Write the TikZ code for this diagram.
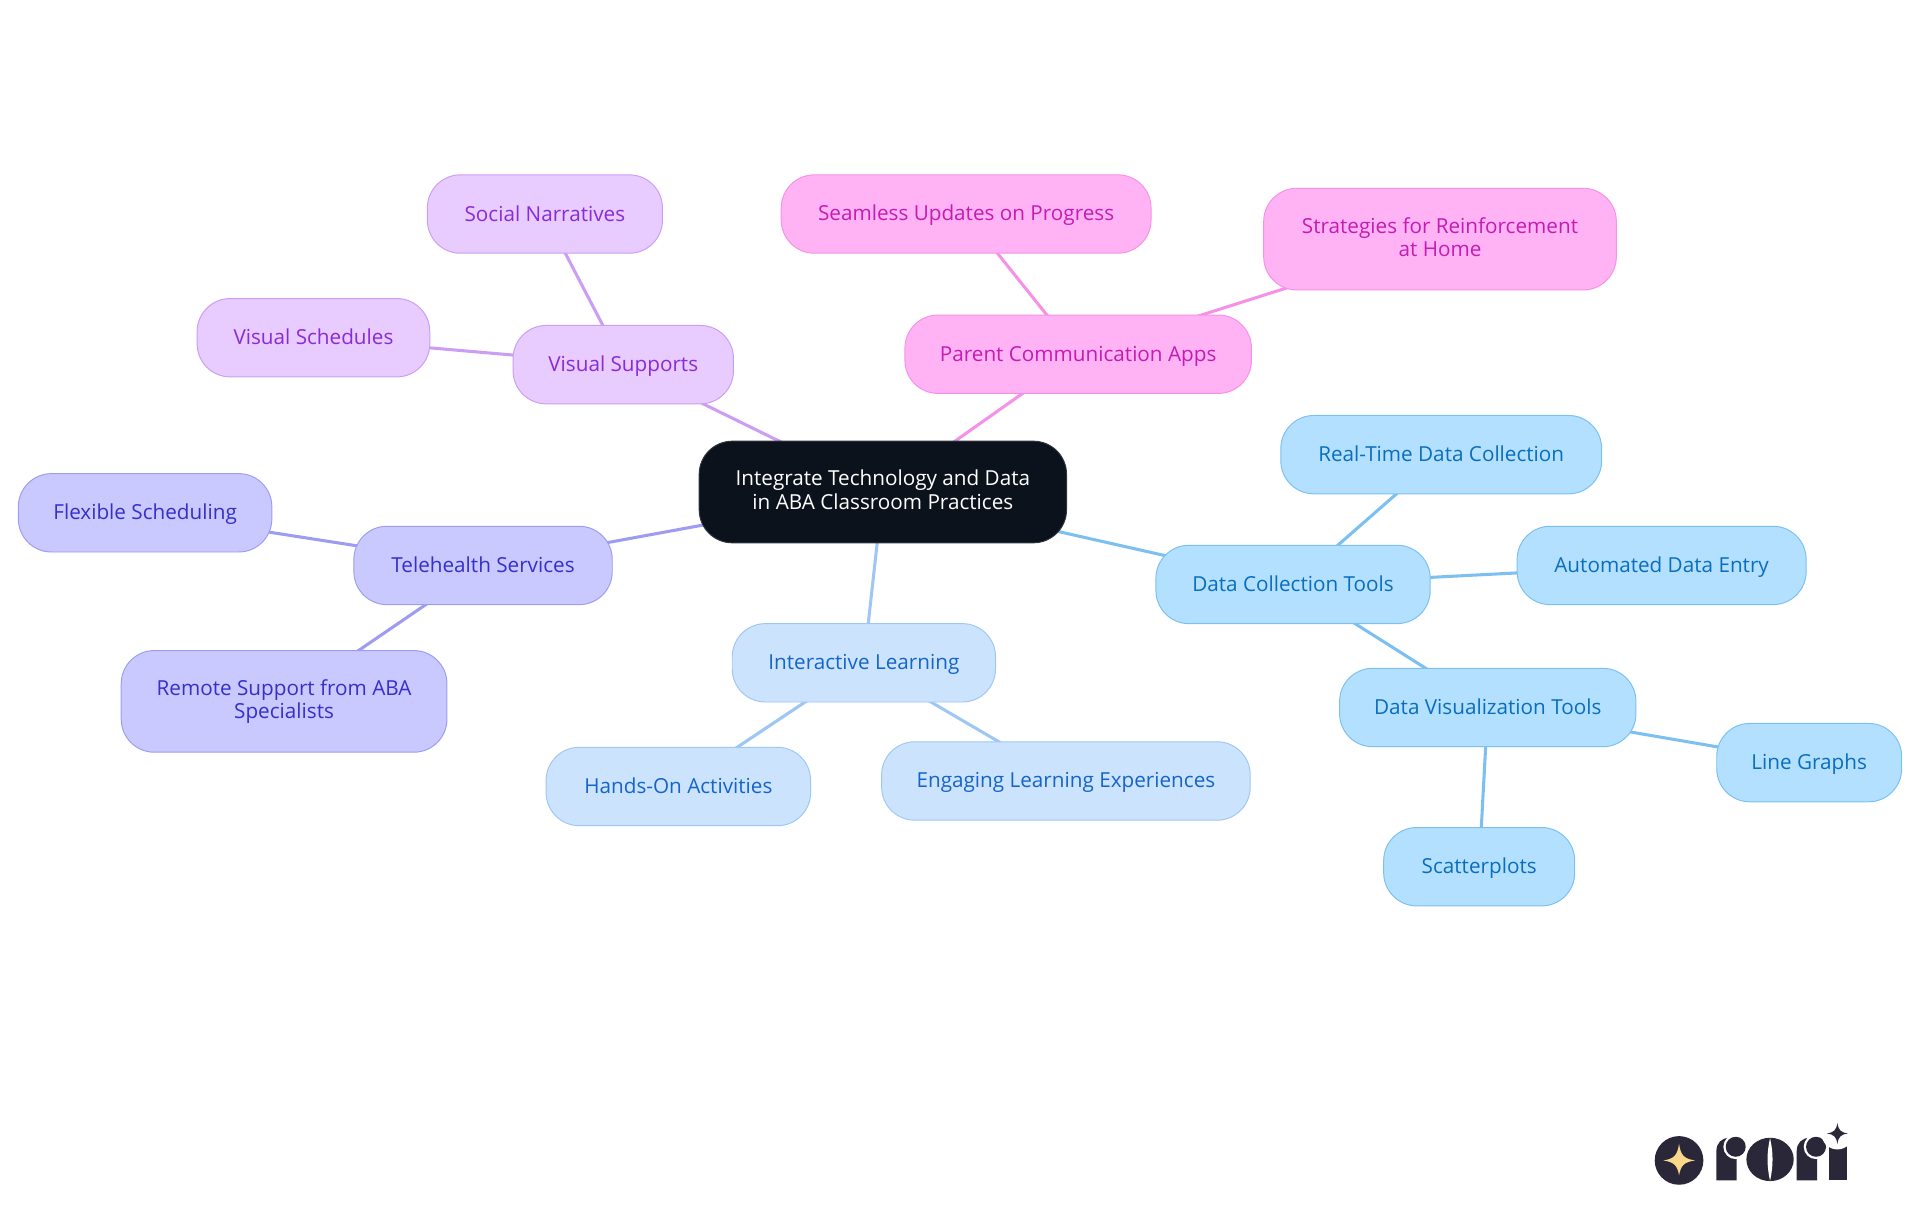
\documentclass[tikz,border=0pt]{standalone}
\usepackage{fontspec}
\setmainfont{Open Sans}
\usetikzlibrary{backgrounds}
\definecolor{rootfill}{HTML}{0C121C}
\definecolor{dataline}{HTML}{7CC0F2}
\definecolor{datafill}{HTML}{B3E0FF}
\definecolor{datatext}{HTML}{0A6EBD}
\definecolor{learnline}{HTML}{9FC7F5}
\definecolor{learnfill}{HTML}{CCE3FD}
\definecolor{learntext}{HTML}{1565C8}
\definecolor{teleline}{HTML}{9E9CF2}
\definecolor{telefill}{HTML}{C9C9FF}
\definecolor{teletext}{HTML}{3530C9}
\definecolor{visualline}{HTML}{CB9EF4}
\definecolor{visualfill}{HTML}{E8CBFF}
\definecolor{visualtext}{HTML}{8A2BD8}
\definecolor{parentline}{HTML}{F592E8}
\definecolor{parentfill}{HTML}{FFB3F5}
\definecolor{parenttext}{HTML}{C41CB2}
\definecolor{logodark}{HTML}{2A2838}
\definecolor{logostar}{HTML}{FBD78A}
\newcommand{\topicstrut}{\rule[-3.7pt]{0pt}{19pt}}
\tikzset{
  topic/.style={rounded corners=27pt, minimum height=64pt, inner sep=0pt,
    align=center, font=\fontsize{16.9}{19}\selectfont, line width=0.8pt,
    execute at begin node=\topicstrut, execute at end node=\topicstrut},
  tall/.style={minimum height=83pt},
  rootnode/.style={topic, tall, fill=rootfill, draw=rootfill!85!white, text=white},
  datanode/.style={topic, fill=datafill, draw=dataline, text=datatext},
  learnnode/.style={topic, fill=learnfill, draw=learnline, text=learntext},
  telenode/.style={topic, fill=telefill, draw=teleline, text=teletext},
  visualnode/.style={topic, fill=visualfill, draw=visualline, text=visualtext},
  parentnode/.style={topic, fill=parentfill, draw=parentline, text=parenttext},
  link/.style={line width=2.5pt}
}
\begin{document}
\begin{tikzpicture}[x=1pt, y=-1pt]
  \useasboundingbox (0,0) rectangle (1568,992.2);
  \node[rootnode, minimum width=300pt] (root) at (721,401.8) {Integrate Technology and Data\\in ABA Classroom Practices};

  \node[datanode, minimum width=224pt] (dct) at (1056,477.3) {Data Collection Tools};
  \node[datanode, minimum width=262pt] (rtd) at (1177,371.3) {Real-Time Data Collection};
  \node[datanode, minimum width=236pt] (ade) at (1357,461.8) {Automated Data Entry};
  \node[datanode, minimum width=242pt] (dvt) at (1215,577.8) {Data Visualization Tools};
  \node[datanode, minimum width=151pt] (lg) at (1477.5,622.8) {Line Graphs};
  \node[datanode, minimum width=156pt] (sp) at (1208,707.8) {Scatterplots};

  \node[learnnode, minimum width=215pt] (il) at (705.5,541.3) {Interactive Learning};
  \node[learnnode, minimum width=216pt] (ha) at (554,642.3) {Hands-On Activities};
  \node[learnnode, minimum width=301pt] (el) at (870.5,637.8) {Engaging Learning Experiences};

  \node[telenode, minimum width=211pt] (ts) at (394.5,461.8) {Telehealth Services};
  \node[telenode, minimum width=207pt] (fs) at (118.5,418.8) {Flexible Scheduling};
  \node[telenode, tall, minimum width=266pt] (rs) at (232,572.8) {Remote Support from ABA\\Specialists};

  \node[visualnode, minimum width=180pt] (vs) at (509,297.8) {Visual Supports};
  \node[visualnode, minimum width=190pt] (vc) at (256,275.8) {Visual Schedules};
  \node[visualnode, minimum width=192pt] (sn) at (445,174.8) {Social Narratives};

  \node[parentnode, minimum width=283pt] (pc) at (880.5,289.3) {Parent Communication Apps};
  \node[parentnode, minimum width=302pt] (su) at (789,174.8) {Seamless Updates on Progress};
  \node[parentnode, tall, minimum width=288pt] (sr) at (1176,195.3) {Strategies for Reinforcement\\at Home};

  \begin{scope}[on background layer]
    \draw[link, dataline] (root.center) -- (dct.center);
    \draw[link, dataline] (dct.center) -- (rtd.center);
    \draw[link, dataline] (dct.center) -- (ade.center);
    \draw[link, dataline] (dct.center) -- (dvt.center);
    \draw[link, dataline] (dvt.center) -- (lg.center);
    \draw[link, dataline] (dvt.center) -- (sp.center);
    \draw[link, learnline] (root.center) -- (il.center);
    \draw[link, learnline] (il.center) -- (ha.center);
    \draw[link, learnline] (il.center) -- (el.center);
    \draw[link, teleline] (root.center) -- (ts.center);
    \draw[link, teleline] (ts.center) -- (fs.center);
    \draw[link, teleline] (ts.center) -- (rs.center);
    \draw[link, visualline] (root.center) -- (vs.center);
    \draw[link, visualline] (vs.center) -- (vc.center);
    \draw[link, visualline] (vs.center) -- (sn.center);
    \draw[link, parentline] (root.center) -- (pc.center);
    \draw[link, parentline] (pc.center) -- (su.center);
    \draw[link, parentline] (pc.center) -- (sr.center);
  \end{scope}

  % logo
  \begin{scope}[shift={(1306.7,889.7)}, x=0.2722pt, y=-0.2722pt]
    \fill[logodark] (237,213) circle (73);
    \fill[logostar] (237,163) .. controls (242,198) and (252,208) .. (285,213)
      .. controls (252,218) and (242,228) .. (237,258)
      .. controls (232,228) and (222,218) .. (190,213)
      .. controls (222,208) and (232,198) .. (237,163) -- cycle;
    \foreach \dx in {0,241} {
      \fill[logodark] (349+\dx,273) -- (349+\dx,185) .. controls (349+\dx,160) and (365+\dx,145) .. (390+\dx,145)
        -- (410+\dx,145) -- (410+\dx,273) -- cycle;
      \fill[white] (407+\dx,172) circle (37);
      \fill[logodark] (407+\dx,172) circle (30);
    }
    \fill[logodark] (510,210) ellipse (71 and 65);
    \fill[white] (510,146) .. controls (500,190) and (500,230) .. (510,274)
      .. controls (520,230) and (520,190) .. (510,146) -- cycle;
    \fill[logodark] (686,273) rectangle (740,165);
    \fill[white] (712,132) circle (48);
    \fill[logodark] (712,100) .. controls (715,122) and (722,129) .. (744,132)
      .. controls (722,135) and (715,142) .. (712,164)
      .. controls (709,142) and (702,135) .. (680,132)
      .. controls (702,129) and (709,122) .. (712,100) -- cycle;
  \end{scope}
\end{tikzpicture}
\end{document}
